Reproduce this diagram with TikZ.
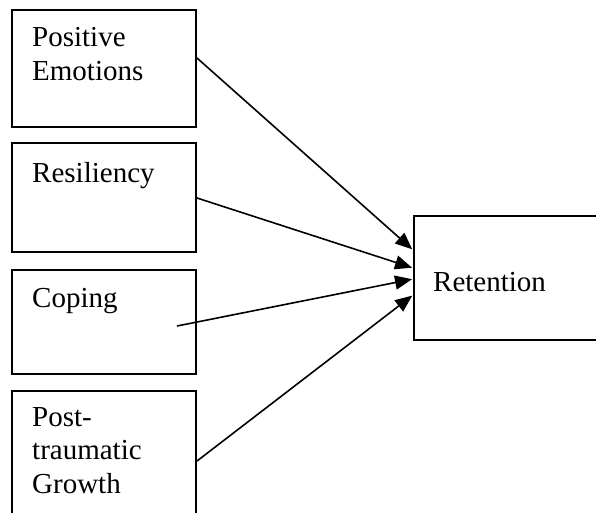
\documentclass[tikz,border=0pt]{standalone}
\usepackage{fontspec}
\setmainfont{Liberation Serif}
\usetikzlibrary{arrows.meta}
\begin{document}
\begin{tikzpicture}[x=1pt,y=-1pt,
  box/.style={draw=black, line width=2pt, rectangle, inner sep=0pt, anchor=north west},
  lbl/.style={anchor=base west, inner sep=0pt, align=left, font=\fontsize{29}{33.3}\selectfont},
  arr/.style={line width=1.6pt, -{Triangle[length=17pt,width=14pt]}, shorten >=1pt}]
\useasboundingbox (0,0) rectangle (596,512);
\clip (0,0) rectangle (596,512);
\fill[white] (0,0) rectangle (596,512);
% boxes
\node[box, minimum width=184pt, minimum height=117pt] (b1) at (11,9) {};
\node[box, minimum width=184pt, minimum height=109pt] (b2) at (11,142) {};
\node[box, minimum width=184pt, minimum height=104pt] (b3) at (11,269) {};
\node[box, minimum width=184pt, minimum height=140pt] (b4) at (11,390) {};
\node[box, minimum width=200pt, minimum height=124pt] (r) at (413,215) {};
% labels (anchored at the baseline of their last line)
\node[lbl] (t1) at (32,80) {Positive\\Emotions};
\node[lbl] (t2) at (32,182) {Resiliency};
\node[lbl] (t3) at (32,307) {Coping};
\node[lbl] (t4) at (32,493) {Post-\\traumatic\\Growth};
\node[lbl] (tr) at (433,291) {Retention};
% connector ends
\coordinate (s1) at (b1.north east |- 0,58);
\coordinate (s2) at (b2.north east |- 0,198);
\coordinate (s3) at (177,326);
\coordinate (s4) at (b4.north east |- 0,461);
\coordinate (e1) at (r.north west |- 0,250);
\coordinate (e2) at (r.north west |- 0,268);
\coordinate (e3) at (r.north west |- 0,279);
\coordinate (e4) at (r.north west |- 0,295);
\draw[arr] (s1) -- (e1);
\draw[arr] (s2) -- (e2);
\draw[arr] (s3) -- (e3);
\draw[arr] (s4) -- (e4);
\end{tikzpicture}
\end{document}
